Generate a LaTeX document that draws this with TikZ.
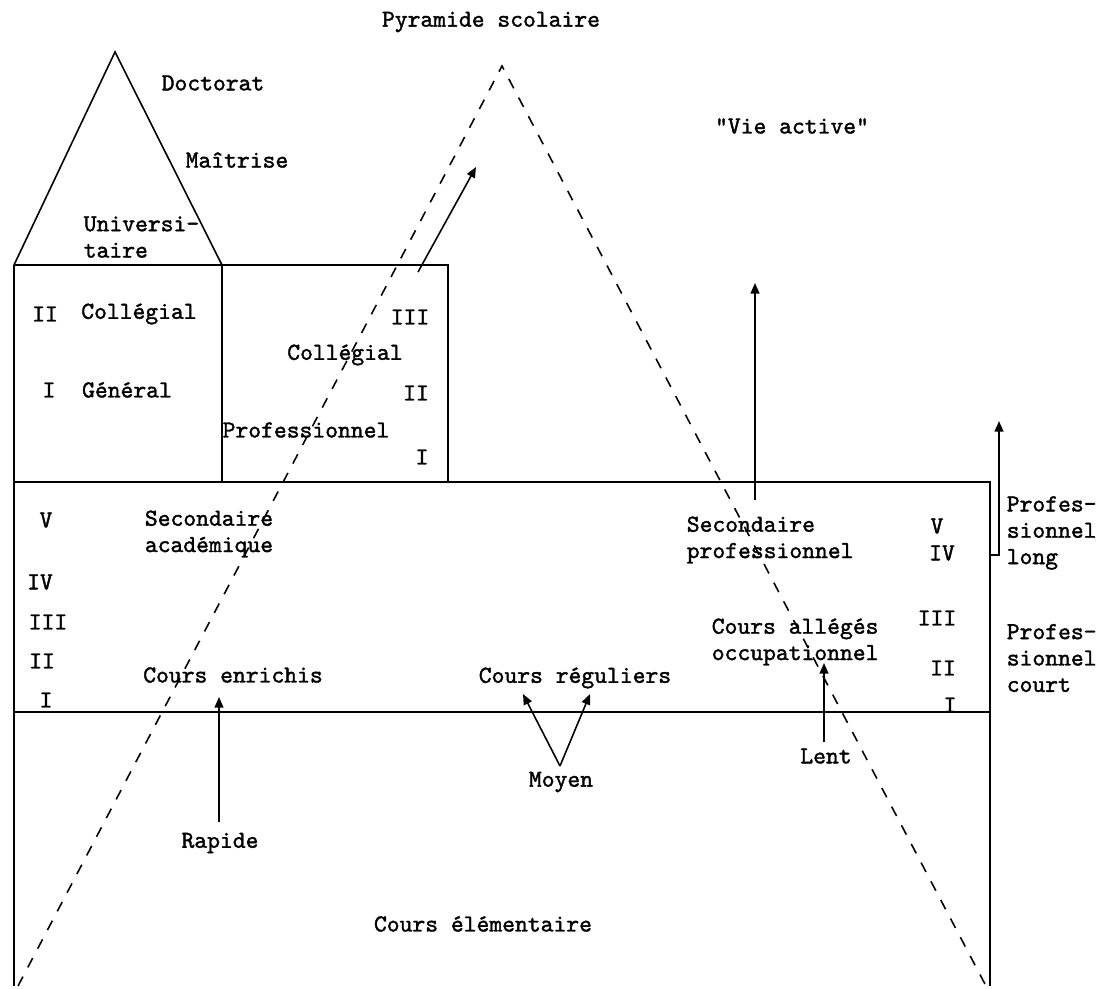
\documentclass[tikz,border=0pt]{standalone}
\usepackage{fontspec}
\setmonofont[FakeBold=1.5]{lmmono10-regular.otf}
\usetikzlibrary{arrows.meta}
\tikzset{
  txt/.style={font=\ttfamily\fontsize{13.9}{15}\selectfont, inner sep=0pt, align=left},
  up/.style={-{Triangle[width=5pt,length=6pt]}},
  pyr/.style={dash pattern=on 6pt off 6pt},
}

\begin{document}
\begin{tikzpicture}[x=0.02cm,y=-0.02cm,line width=0.9pt]
  \useasboundingbox (0,0) rectangle (1111,989);
  % university roof and college boxes
  \coordinate (uL) at (14,265);
  \coordinate (uTop) at (115,52);
  \coordinate (uR) at (222,265);
  \coordinate (cR) at (448,265);
  \draw (uL) -- (uTop) -- (uR);
  \draw (uL) -- (cR) -- (448,482);
  \draw (uR) -- (222,482);
  % secondary box and elementary
  \draw (14,482) -- (990,482) -- (990,986);
  \draw (14,712) -- (990,712);
  \draw (uL) -- (14,986);
  % pyramide scolaire
  \coordinate (pTop) at (502,66);
  \draw[pyr] (18,986) -- (pTop) -- (986,986);

  \node[txt] (titre) at (491,22) {Pyramide scolaire};
  \node[txt] (vie) at (792,126) {"Vie active"};
  \node[txt] (doct) at (213,83) {Doctorat};
  \node[txt] (maitr) at (237,160) {Maîtrise};
  \node[txt,anchor=west] (univ) at (83,237) {Universi-\\taire};

  % collegial general
  \node[txt] (cg2) at (45,314) {II};
  \node[txt] (cg) at (139,314) {Collégial};
  \node[txt] (cg1) at (49,390) {I};
  \node[txt] (gen) at (127,390) {Général};
  % collegial professionnel
  \node[txt] (cp3) at (410,317) {III};
  \node[txt] (cpa) at (345,355) {Collégial};
  \node[txt] (cp2) at (416,393) {II};
  \node[txt] (cpb) at (306,430) {Professionnel};
  \node[txt] (cp1) at (422,457) {I};

  % secondaire academique
  \node[txt] (sa5) at (46,520) {V};
  \node[txt] (sa) at (209,534) {Secondaire\\académique};
  \node[txt] (sa4) at (40,582) {IV};
  \node[txt] (sa3) at (48,622) {III};
  \node[txt] (sa2) at (42,661) {II};
  \node[txt] (sa1) at (46,700) {I};
  \node[txt] (enrich) at (233,675) {Cours enrichis};
  \node[txt] (regul) at (575,678) {Cours réguliers};

  % secondaire professionnel
  \node[txt,anchor=west] (sp) at (686,540) {Secondaire\\professionnel};
  \node[txt,anchor=west] (allege) at (711,642) {Cours allégés\\occupationnel};
  \node[txt] (sp5) at (937,526) {V};
  \node[txt] (sp4) at (942,553) {IV};
  \node[txt] (sp3) at (937,618) {III};
  \node[txt] (sp2) at (943,668) {II};
  \node[txt] (sp1) at (950,705) {I};
  \node[txt,anchor=west] (plong) at (1006,533) {Profes-\\sionnel\\long};
  \node[txt,anchor=west] (pcourt) at (1006,658) {Profes-\\sionnel\\court};

  % elementaire
  \node[txt] (moyen) at (561,782) {Moyen};
  \node[txt] (lent) at (826,756) {Lent};
  \node[txt] (rapide) at (220,843) {Rapide};
  \node[txt] (elem) at (483,924) {Cours élémentaire};

  % sorties
  \coordinate (enrIn) at (219,697);
  \coordinate (regL) at (523,694);
  \coordinate (regR) at (590,694);
  \coordinate (moyV) at (560,766);
  \coordinate (allIn) at (824,663);
  \draw[up] (219,822) -- (enrIn);
  \draw[up] (moyV) -- (regL);
  \draw[up] (moyV) -- (regR);
  \draw[up] (824,742) -- (allIn);
  \draw[up] (418,272) -- (476,167);
  \draw[up] (755,500) -- (755,283);
  \draw[up] (990,555) -- (999,555) -- (999,421);
\end{tikzpicture}
\end{document}
